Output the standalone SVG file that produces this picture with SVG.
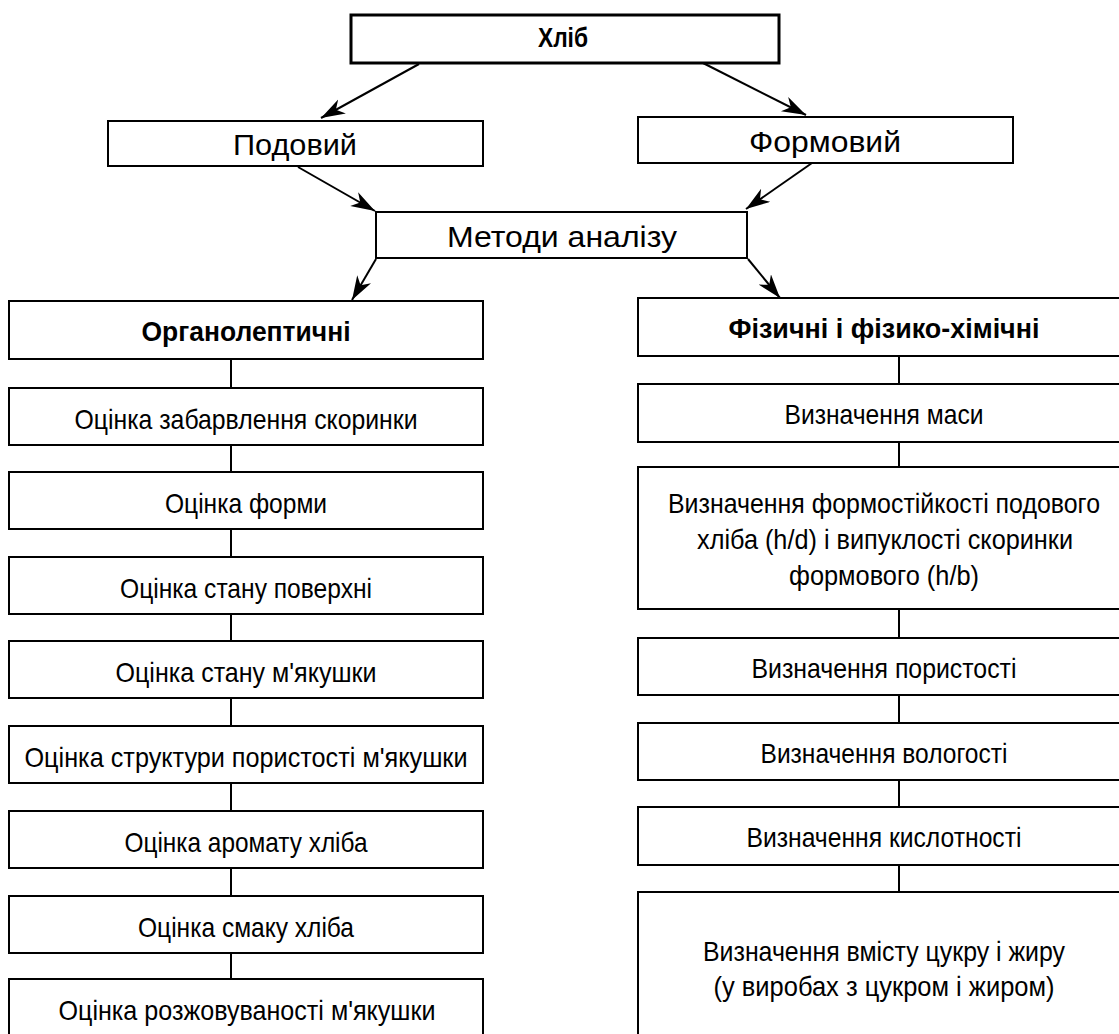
<svg xmlns="http://www.w3.org/2000/svg" width="1119" height="1034" viewBox="0 0 1119 1034">
<style>
.box{fill:#fff;stroke:#000;stroke-width:2}
.main{fill:#fff;stroke:#000;stroke-width:3}
.t{font-family:"Liberation Sans",Arial,sans-serif;font-size:28px;fill:#000;text-anchor:middle}
.h{font-family:"Liberation Sans",Arial,sans-serif;font-size:30px;fill:#000;text-anchor:middle}
.b{font-family:"Liberation Sans",Arial,sans-serif;font-size:27px;font-weight:bold;fill:#000;text-anchor:middle}
.c{stroke:#000;stroke-width:2;fill:none}
.a{stroke:#000;stroke-width:2;fill:none;marker-end:url(#arr)}
</style>
<defs>
<marker id="arr" markerUnits="userSpaceOnUse" markerWidth="26" markerHeight="18" refX="24" refY="8" orient="auto">
<path d="M0,0 L24,8 L0,16 L7,8 Z" fill="#000"/>
</marker>
</defs>
<rect width="1119" height="1034" fill="#fff"/>
<g id="connectors">
<line class="a" x1="419" y1="64" x2="321" y2="118"/>
<line class="a" x1="703" y1="63" x2="806" y2="115"/>
<line class="a" x1="298" y1="167" x2="375" y2="211"/>
<line class="a" x1="812" y1="163" x2="746" y2="209"/>
<line class="a" x1="376" y1="259" x2="352" y2="300"/>
<line class="a" x1="748" y1="259" x2="780" y2="298"/>
<line class="c" x1="231" y1="359" x2="231" y2="388"/>
<line class="c" x1="231" y1="445" x2="231" y2="472"/>
<line class="c" x1="231" y1="529" x2="231" y2="557"/>
<line class="c" x1="231" y1="614" x2="231" y2="641"/>
<line class="c" x1="231" y1="698" x2="231" y2="726"/>
<line class="c" x1="231" y1="783" x2="231" y2="811"/>
<line class="c" x1="231" y1="868" x2="231" y2="896"/>
<line class="c" x1="231" y1="953" x2="231" y2="979"/>
<line class="c" x1="899" y1="356" x2="899" y2="384"/>
<line class="c" x1="899" y1="442" x2="899" y2="467"/>
<line class="c" x1="899" y1="609" x2="899" y2="638"/>
<line class="c" x1="899" y1="695" x2="899" y2="723"/>
<line class="c" x1="899" y1="780" x2="899" y2="807"/>
<line class="c" x1="899" y1="865" x2="899" y2="892"/>
</g>
<g id="n-khlib"><rect class="main" x="351" y="15" width="428" height="48"/><text class="b" x="563" y="47" font-size="23" textLength="50" lengthAdjust="spacingAndGlyphs">Хліб</text></g>
<g id="n-podovyi"><rect class="box" x="108" y="121" width="375" height="45"/><text class="h" x="295" y="155" textLength="124" lengthAdjust="spacingAndGlyphs">Подовий</text></g>
<g id="n-formovyi"><rect class="box" x="638" y="117" width="375" height="46"/><text class="h" x="825" y="152" textLength="152" lengthAdjust="spacingAndGlyphs">Формовий</text></g>
<g id="n-metody"><rect class="box" x="376" y="212" width="371" height="46"/><text class="h" x="562" y="247" textLength="230" lengthAdjust="spacingAndGlyphs">Методи аналізу</text></g>
<g id="n-org"><rect class="box" x="9" y="301" width="474" height="58"/><text class="b" x="246" y="341" textLength="209" lengthAdjust="spacingAndGlyphs">Органолептичні</text></g>
<g id="n-fiz"><rect class="box" x="638" y="298" width="482" height="58"/><text class="b" x="884" y="338" textLength="311" lengthAdjust="spacingAndGlyphs">Фізичні і фізико-хімічні</text></g>
<g id="n-l1"><rect class="box" x="9" y="388" width="474" height="57"/><text class="t" x="246" y="429" textLength="343" lengthAdjust="spacingAndGlyphs">Оцінка забарвлення скоринки</text></g>
<g id="n-l2"><rect class="box" x="9" y="472" width="474" height="57"/><text class="t" x="246" y="513" textLength="162" lengthAdjust="spacingAndGlyphs">Оцінка форми</text></g>
<g id="n-l3"><rect class="box" x="9" y="557" width="474" height="57"/><text class="t" x="246" y="598" textLength="252" lengthAdjust="spacingAndGlyphs">Оцінка стану поверхні</text></g>
<g id="n-l4"><rect class="box" x="9" y="641" width="474" height="57"/><text class="t" x="246" y="682" textLength="261" lengthAdjust="spacingAndGlyphs">Оцінка стану м'якушки</text></g>
<g id="n-l5"><rect class="box" x="9" y="726" width="474" height="57"/><text class="t" x="246" y="767" textLength="443" lengthAdjust="spacingAndGlyphs">Оцінка структури пористості м'якушки</text></g>
<g id="n-l6"><rect class="box" x="9" y="811" width="474" height="57"/><text class="t" x="246" y="852" textLength="243" lengthAdjust="spacingAndGlyphs">Оцінка аромату хліба</text></g>
<g id="n-l7"><rect class="box" x="9" y="896" width="474" height="57"/><text class="t" x="246" y="937" textLength="216" lengthAdjust="spacingAndGlyphs">Оцінка смаку хліба</text></g>
<g id="n-l8"><rect class="box" x="9" y="979" width="474" height="70"/><text class="t" x="247" y="1020" textLength="377" lengthAdjust="spacingAndGlyphs">Оцінка розжовуваності м'якушки</text></g>
<g id="n-r1"><rect class="box" x="638" y="384" width="482" height="58"/><text class="t" x="884" y="424" textLength="199" lengthAdjust="spacingAndGlyphs">Визначення маси</text></g>
<g id="n-r2"><rect class="box" x="638" y="467" width="482" height="142"/><text class="t" x="884" y="513" font-size="26" textLength="432" lengthAdjust="spacingAndGlyphs">Визначення формостійкості подового</text><text class="t" x="885" y="549" textLength="376" lengthAdjust="spacingAndGlyphs">хліба (h/d) і випуклості скоринки</text><text class="t" x="884" y="585" textLength="190" lengthAdjust="spacingAndGlyphs">формового (h/b)</text></g>
<g id="n-r3"><rect class="box" x="638" y="638" width="482" height="57"/><text class="t" x="884" y="678" textLength="265" lengthAdjust="spacingAndGlyphs">Визначення пористості</text></g>
<g id="n-r4"><rect class="box" x="638" y="723" width="482" height="57"/><text class="t" x="884" y="763" textLength="247" lengthAdjust="spacingAndGlyphs">Визначення вологості</text></g>
<g id="n-r5"><rect class="box" x="638" y="807" width="482" height="58"/><text class="t" x="884" y="847" textLength="275" lengthAdjust="spacingAndGlyphs">Визначення кислотності</text></g>
<g id="n-r6"><rect class="box" x="638" y="892" width="482" height="160"/><text class="t" x="884" y="961" textLength="362" lengthAdjust="spacingAndGlyphs">Визначення вмісту цукру і жиру</text><text class="t" x="884" y="996" textLength="341" lengthAdjust="spacingAndGlyphs">(у виробах з цукром і жиром)</text></g>
</svg>
